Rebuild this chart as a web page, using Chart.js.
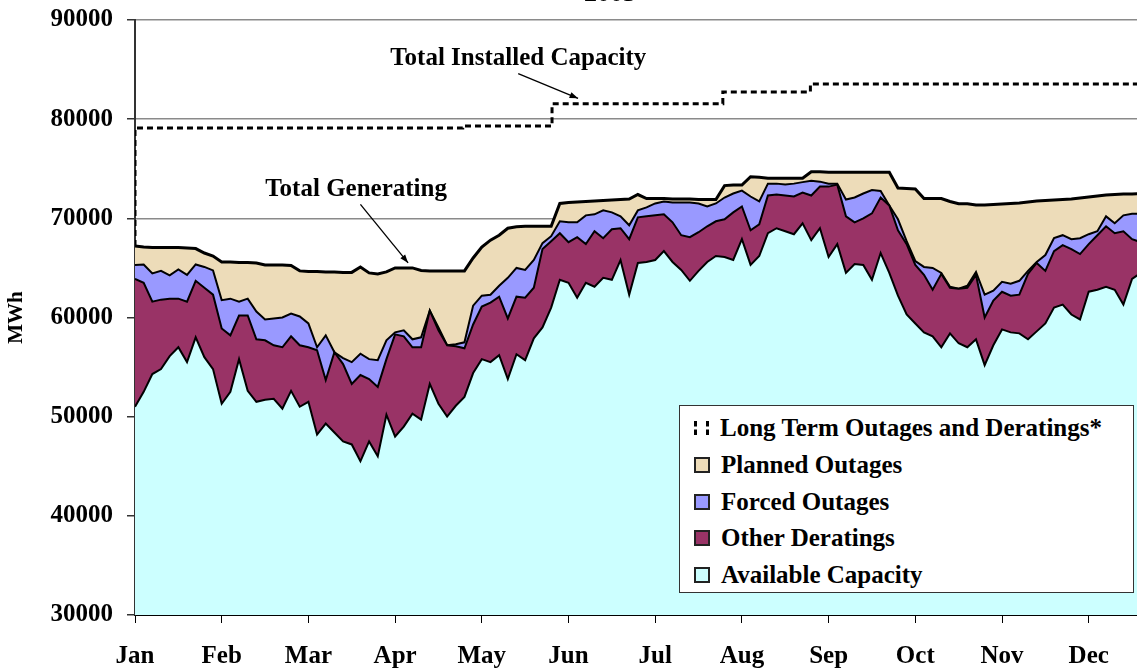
<!DOCTYPE html>
<html>
<head>
<meta charset="utf-8">
<script src="https://cdn.jsdelivr.net/npm/chart.js@4.4.1/dist/chart.umd.min.js"></script>
<style>
  body { margin: 0; background: #fff; overflow: hidden; }
  #wrap { position: relative; width: 1137px; height: 668px; }
  .legend {
    position: absolute; left: 679px; top: 405px; width: 453px; height: 186px;
    background: #fff; border: 1px solid #333;
    font: bold 25px 'Liberation Serif', 'Times New Roman', serif; color: #000;
  }
  .item { position: absolute; left: 14px; height: 30px; display: flex; align-items: center; white-space: nowrap; }
  .sw { display: inline-block; width: 12px; height: 12px; border: 2px solid #222; margin-right: 11px; }
  .sw.dash { width: 9px; height: 14px; border: none; border-left: 3px dashed #000; border-right: 3px dashed #000; margin-right: 11px; }
</style>
</head>
<body>
<div id="wrap">
  <canvas id="chart" width="1137" height="668"></canvas>
  <div class="legend">
    <div class="item" style="top:7px"><span class="sw dash"></span>Long Term Outages and Deratings*</div>
    <div class="item" style="top:44px"><span class="sw" style="background:#EDDCB9"></span>Planned Outages</div>
    <div class="item" style="top:81px"><span class="sw" style="background:#9999FF"></span>Forced Outages</div>
    <div class="item" style="top:117px"><span class="sw" style="background:#993366"></span>Other Deratings</div>
    <div class="item" style="top:154px"><span class="sw" style="background:#CCFFFF"></span>Available Capacity</div>
  </div>
</div>
<script>
// samples every 0.1 month (about 3 days), Jan 1 onwards
const monthLabels = ['Jan', 'Feb', 'Mar', 'Apr', 'May', 'Jun', 'Jul', 'Aug', 'Sep', 'Oct', 'Nov', 'Dec'];

const availableCapacity = [
  51000, 52500, 54300, 54800, 56100, 57000, 55500, 58000, 56000, 54800,
  51300, 52500, 55800, 52600, 51500, 51700, 51800, 50800, 52600, 51000,
  51500, 48200, 49300, 48400, 47500, 47200, 45500, 47500, 46000, 50200,
  48000, 49000, 50300, 49700, 53300, 51300, 50000, 51100, 52000, 54400,
  55800, 55500, 56200, 53800, 56300, 55700, 57900, 59000, 61000, 63800,
  63500, 62000, 63500, 63100, 64000, 63800, 65800, 62300, 65500, 65600,
  65800, 66700, 65600, 64800, 63700, 64700, 65600, 66200, 66100, 65800,
  67900, 65300, 66200, 68500, 69000, 68700, 68400, 69500, 67800, 69000,
  66100, 67400, 64500, 65400, 65300, 63800, 66500, 64500, 62200, 60300,
  59400, 58500, 58100, 57000, 58400, 57400, 57000, 57800, 55200, 57200,
  58800, 58500, 58400, 57800, 58600, 59400, 61000, 61300, 60300, 59800,
  62600, 62800, 63100, 62800, 61300, 63900, 64500
];

// top of the Other Deratings band (available + other deratings)
const otherDeratingsTop = [
  63900, 63500, 61600, 61800, 61900, 61900, 61600, 63700, 63000, 62300,
  58900, 58200, 60200, 60200, 57800, 57700, 57200, 57000, 58100, 57200,
  57000, 56700, 53700, 56500, 55300, 53300, 54200, 53800, 53000, 55800,
  58300, 58100, 57000, 57000, 60700, 58700, 57200, 57100, 56900, 59300,
  61100, 61500, 62100, 59900, 62100, 62000, 63000, 66900, 67700, 68500,
  67600, 68100, 67400, 68700, 68000, 68900, 69000, 67900, 70100, 70200,
  70300, 70400, 69600, 68300, 68100, 68600, 69200, 69700, 69900, 70600,
  71200, 68800, 69400, 72300, 72400, 72300, 72200, 72600, 72300, 73200,
  73200, 73400, 70200, 69600, 70000, 70500, 72100, 71300, 68800, 67400,
  65300, 64300, 62800, 64400, 63000, 62900, 63000, 64300, 60000, 61700,
  62600, 62200, 62300, 64400, 65500, 64700, 66700, 67300, 66900, 66400,
  67400, 68300, 69200, 68500, 68700, 67900, 67600
];

// top of the Forced Outages band
const forcedOutagesTop = [
  65300, 65350, 64450, 64700, 64250, 64850, 64300, 65350, 65100, 64750,
  61750, 61900, 61600, 61900, 60600, 59800, 59900, 60000, 60400, 60100,
  59400, 57000, 58200, 56500, 55900, 55500, 56350, 55800, 55700, 57700,
  58500, 58700, 57800, 58000, 60700, 59000, 57200, 57300, 57500, 61200,
  62200, 62300, 63200, 64000, 65000, 64800, 65800, 67500, 68200, 69700,
  69600, 69600, 70300, 70400, 70800, 70600, 70200, 69300, 70800, 71100,
  71500, 71700, 71600, 71600, 71600, 71500, 71200, 71500, 72100, 72500,
  72800, 72200, 71700, 73500, 73500, 73400, 73500, 73650, 73800, 73700,
  73500, 73500, 71900, 72100, 72500, 72850, 72750, 71300, 69900, 67700,
  65700, 65100, 65000, 64500, 63100, 62900, 63200, 64600, 62300, 62700,
  63600, 63400, 63700, 64700, 65600, 66300, 68000, 68300, 67900, 68000,
  68400, 68700, 70200, 69500, 70300, 70450, 70450
];

// Total Generating = top of the Planned Outages band
const totalGenerating = [
  67200, 67100, 67050, 67050, 67050, 67050, 67000, 66950, 66500, 66200,
  65600, 65600, 65550, 65550, 65500, 65300, 65300, 65300, 65250, 64700,
  64650, 64650, 64600, 64600, 64550, 64550, 65100, 64500, 64400, 64600,
  65000, 65000, 65000, 64750, 64700, 64700, 64700, 64700, 64700, 66000,
  67100, 67800, 68300, 69000, 69150, 69200, 69200, 69200, 69200, 71500,
  71600, 71650, 71700, 71750, 71800, 71850, 71900, 71950, 72400, 72000,
  72000, 72000, 71950, 71950, 71950, 71900, 71900, 71900, 73300, 73350,
  73350, 74200, 74150, 74050, 74050, 74050, 74050, 74050, 74700, 74700,
  74650, 74650, 74650, 74650, 74650, 74650, 74650, 74650, 73050, 73000,
  72950, 72000, 72000, 72000, 71700, 71480, 71480, 71350, 71350, 71400,
  71450, 71500, 71550, 71650, 71750, 71800, 71850, 71900, 71950, 72050,
  72150, 72250, 72350, 72400, 72450, 72450, 72500
];

// Total Installed Capacity steps (month position where it changes, new value)
const capacityChangeMonths = [0, 0, 3.78, 4.81, 6.78, 7.79, 11.7];
const installedCapacity = [67200, 79100, 79300, 81550, 82750, 83550, 83550];

const toPoints = arr => arr.map((v, i) => ({ x: i / 10, y: v }));
const capacityPoints = capacityChangeMonths.map((m, i) => ({ x: m, y: installedCapacity[i] }));

const serif = "'Liberation Serif', 'Times New Roman', serif";

function arrow(ctx, x1, y1, x2, y2) {
    ctx.beginPath();
    ctx.moveTo(x1, y1);
    ctx.lineTo(x2, y2);
    ctx.stroke();
    const a = Math.atan2(y2 - y1, x2 - x1);
    ctx.beginPath();
    ctx.moveTo(x2, y2);
    ctx.lineTo(x2 - 9 * Math.cos(a - 0.35), y2 - 9 * Math.sin(a - 0.35));
    ctx.lineTo(x2 - 9 * Math.cos(a + 0.35), y2 - 9 * Math.sin(a + 0.35));
    ctx.closePath();
    ctx.fill();
}

const annotations = {
    id: 'annotations',
    afterDraw(chart) {
        const { ctx, scales: { x, y } } = chart;
        ctx.save();
        ctx.fillStyle = '#000';
        ctx.strokeStyle = '#000';
        ctx.lineWidth = 1.3;
        ctx.font = 'bold 25px ' + serif;
        ctx.textAlign = 'center';
        ctx.textBaseline = 'middle';
        ctx.fillText('Total Installed Capacity', x.getPixelForValue(4.42), y.getPixelForValue(86100));
        ctx.fillText('Total Generating', x.getPixelForValue(2.55), y.getPixelForValue(72900));
        arrow(ctx, x.getPixelForValue(4.42), y.getPixelForValue(84600), x.getPixelForValue(5.11), y.getPixelForValue(82100));
        arrow(ctx, x.getPixelForValue(2.6), y.getPixelForValue(71400), x.getPixelForValue(3.15), y.getPixelForValue(65500));
        // chart title, mostly cropped off the top
        ctx.textBaseline = 'alphabetic';
        ctx.font = 'bold 26px ' + serif;
        ctx.fillText('2005', 610, 1);
        ctx.restore();
    }
};

const lineDefaults = { borderColor: '#000', borderWidth: 2, pointRadius: 0, tension: 0 };

new Chart(document.getElementById('chart'), {
    type: 'line',
    data: {
        datasets: [
            { ...lineDefaults, label: 'Available Capacity', data: toPoints(availableCapacity), fill: 'start', backgroundColor: '#CCFFFF' },
            { ...lineDefaults, label: 'Other Deratings', data: toPoints(otherDeratingsTop), fill: '-1', backgroundColor: '#993366' },
            { ...lineDefaults, label: 'Forced Outages', data: toPoints(forcedOutagesTop), fill: '-1', backgroundColor: '#9999FF' },
            { ...lineDefaults, label: 'Planned Outages', data: toPoints(totalGenerating), fill: '-1', backgroundColor: '#EDDCB9', borderWidth: 3 },
            { ...lineDefaults, label: 'Long Term Outages and Deratings*', data: capacityPoints, fill: false,
              stepped: 'before', borderDash: [6, 4], borderWidth: 3 }
        ]
    },
    options: {
        responsive: false,
        animation: false,
        devicePixelRatio: 1,
        layout: { padding: { top: 20, right: 0, left: 0, bottom: 0 } },
        plugins: { legend: { display: false }, tooltip: { enabled: false } },
        scales: {
            x: {
                type: 'linear',
                min: 0,
                max: 11.557,
                afterFit: s => { s.height = 53; },
                grid: { drawOnChartArea: false, tickLength: 8, color: '#000', tickColor: '#000' },
                border: { color: '#000', width: 2 },
                ticks: {
                    stepSize: 1,
                    includeBounds: false,
                    autoSkip: false,
                    maxRotation: 0,
                    padding: 19,
                    color: '#000',
                    font: { family: serif, size: 25, weight: 'bold' },
                    callback: v => Number.isInteger(v) ? monthLabels[v] : ''
                }
            },
            y: {
                min: 30000,
                max: 90000,
                afterFit: s => { s.width = 135; s.paddingTop = 0; s.paddingBottom = 0; },
                grid: { color: '#8a8a8a', lineWidth: 1.5, tickLength: 8, tickColor: '#333' },
                border: { color: '#333', width: 2 },
                ticks: {
                    stepSize: 10000,
                    padding: 14,
                    color: '#000',
                    font: { family: serif, size: 25, weight: 'bold' },
                    callback: v => String(v)
                },
                title: {
                    display: true,
                    text: 'MWh',
                    color: '#000',
                    padding: { top: 4, bottom: 0 },
                    font: { family: serif, size: 21, weight: 'bold' }
                }
            }
        }
    },
    plugins: [annotations]
});
</script>
</body>
</html>
